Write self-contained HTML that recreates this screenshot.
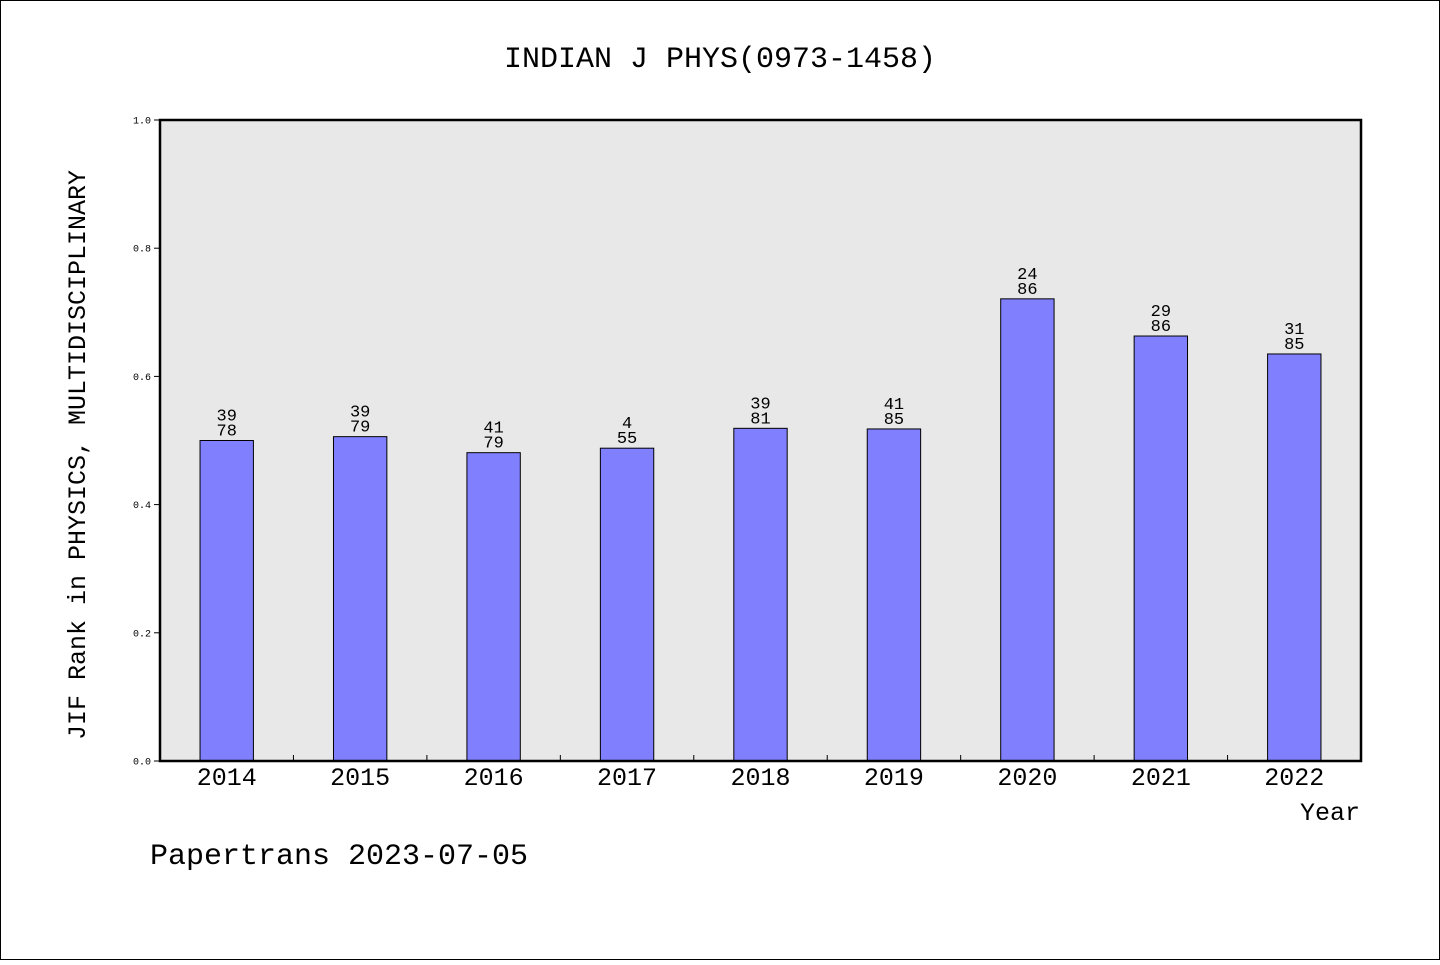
<!DOCTYPE html>
<html><head><meta charset="utf-8"><style>
body{margin:0;background:#fff}
svg text{font-family:"WenQuanYi Zen Hei","Liberation Mono",monospace;fill:#000}
</style></head><body>
<svg id="chart" width="1440" height="960">
<rect x="0.5" y="0.5" width="1439" height="959" fill="#fff" stroke="#000"/>
<text x="720" y="67" font-size="30" text-anchor="middle">INDIAN J PHYS(0973-1458)</text>
<rect x="160" y="120" width="1201" height="641" fill="#e8e8e8"/>
<g id="bars"></g>
<rect x="160" y="120" width="1201" height="641" fill="none" stroke="#000" stroke-width="2.5"/>
<text transform="translate(85,455) rotate(-90)" font-size="25" text-anchor="middle">JIF Rank in PHYSICS, MULTIDISCIPLINARY</text>
<text x="1360" y="820" font-size="25" text-anchor="end">Year</text>
<text x="150" y="864" font-size="30">Papertrans 2023-07-05</text>
</svg>
<script>
const categories=["2014","2015","2016","2017","2018","2019","2020","2021","2022"];
const values=[0.500,0.506,0.481,0.488,0.519,0.518,0.721,0.663,0.635];
const ranks=["39","39","41","4","39","41","24","29","31"];
const totals=["78","79","79","55","81","85","86","86","85"];
const yTicks=[0,0.2,0.4,0.6,0.8,1.0];
const yTickLabels=["0.0","0.2","0.4","0.6","0.8","1.0"];
const X0=160,X1=1361,Y0=761,Y1=120;
const slot=(X1-X0)/categories.length;
const xc=i=>X0+slot*(i+0.5);
const y=v=>Y0-(Y0-Y1)*v;
const ns="http://www.w3.org/2000/svg";
const g=document.getElementById('bars');
function mk(t,a,txt){const e=document.createElementNS(ns,t);for(const k in a)e.setAttribute(k,a[k]);if(txt!==undefined)e.textContent=txt;g.appendChild(e);return e;}
const bw=slot*0.4;
yTicks.forEach((v,i)=>{
 let t=mk('line',{x1:X0-6,x2:X0,y1:y(v),y2:y(v),stroke:'#000'});
 
 
 let l=mk('text',{x:X0-9,y:y(v)+3.5,'font-size':10,'text-anchor':'end'},yTickLabels[i]);
 
 
});
categories.forEach((c,i)=>{
 if(i>0){let t=mk('line',{x1:X0+slot*i,x2:X0+slot*i,y1:Y0,y2:Y0-6,stroke:'#000'});
 
 }
 let r=mk('rect',{x:xc(i)-bw/2,y:y(values[i]),width:bw,height:Y0-y(values[i]),fill:'#8080ff',stroke:'#000','stroke-width':1});
 
 
 let a=mk('text',{x:xc(i),y:y(values[i])-20,'font-size':17,'text-anchor':'middle'},ranks[i]);
 
 
 let b=mk('text',{x:xc(i),y:y(values[i])-5,'font-size':17,'text-anchor':'middle'},totals[i]);
 
 
 let xl=mk('text',{x:xc(i),y:785,'font-size':25,'text-anchor':'middle'},c);
 
 
});
</script>
</body></html>
